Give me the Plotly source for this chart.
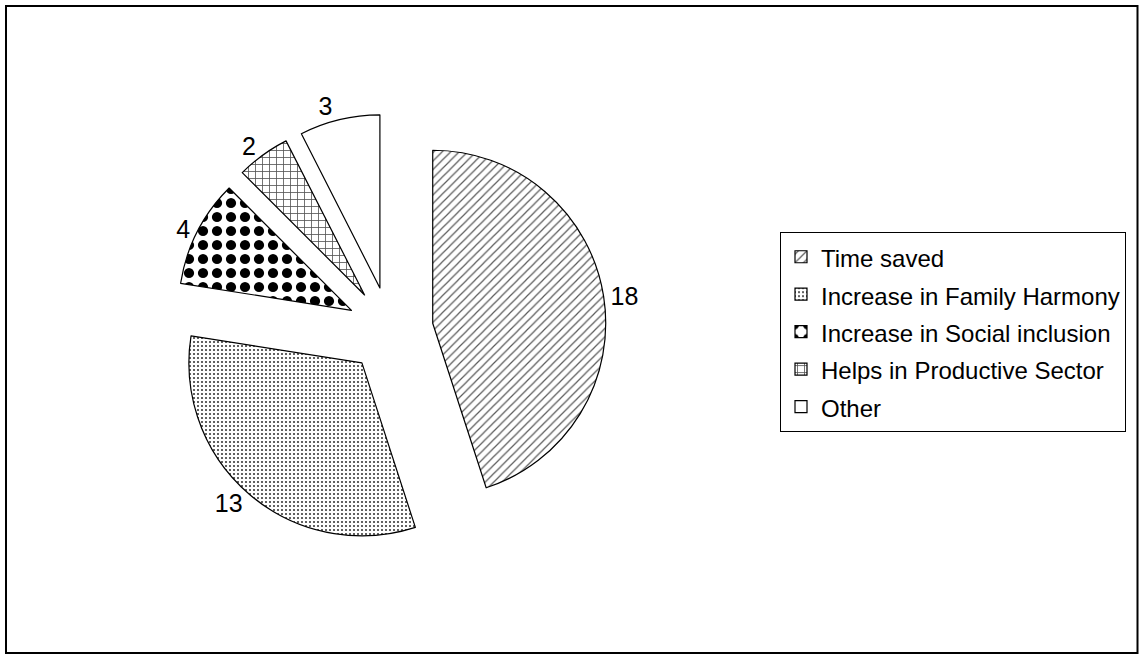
import plotly.graph_objects as go

# Benefits reported and number of responses
categories = [
    "Time saved",
    "Increase in Family Harmony",
    "Increase in Social inclusion",
    "Helps in Productive Sector",
    "Other",
]
counts = [18, 13, 4, 2, 3]

# Fill pattern for each slice (greyscale print style)
pattern_shapes = ["/", ".", ".", "+", ""]
pattern_sizes = [6, 4, 14, 7, 8]
pattern_solidity = [0.2, 0.22, 0.42, 0.22, 0.2]
pattern_fg = ["#5a5a5a", "#3a3a3a", "#000000", "#555555", "#000000"]

W, H = 1139, 654

# legend rows are spaced by the legend font; label text uses a smaller span
legend_labels = [f"<span style='font-size:24px'>{c}</span>" for c in categories]

fig = go.Figure(
    go.Pie(
        labels=legend_labels,
        values=counts,
        sort=False,
        direction="clockwise",
        rotation=0,
        pull=[0.25] * len(counts),
        textinfo="value",
        textposition="outside",
        outsidetextfont=dict(family="Liberation Sans, Arial, sans-serif", size=25, color="black"),
        marker=dict(
            colors=["white"] * len(counts),
            line=dict(color="black", width=1.2),
            pattern=dict(
                shape=pattern_shapes,
                size=pattern_sizes,
                solidity=pattern_solidity,
                fgcolor=pattern_fg,
                fgopacity=1,
                bgcolor="white",
                fillmode="replace",
            ),
        ),
        domain=dict(
            x=[173.75 / W, 606.25 / W],
            y=[1 - 546.25 / H, 1 - 113.75 / H],
        ),
        hoverinfo="skip",
    )
)

fig.update_layout(
    width=W,
    height=H,
    margin=dict(l=0, r=0, t=0, b=0),
    paper_bgcolor="white",
    plot_bgcolor="white",
    showlegend=True,
    legend=dict(
        x=780 / W,
        y=1 - 232 / H,
        xanchor="left",
        yanchor="top",
        bordercolor="black",
        borderwidth=1,
        bgcolor="white",
        font=dict(family="Liberation Sans, Arial, sans-serif", size=26.5, color="black"),
        itemclick=False,
        itemdoubleclick=False,
    ),
    shapes=[
        dict(
            type="rect",
            xref="paper",
            yref="paper",
            x0=6 / W,
            x1=1137.5 / W,
            y0=1 - 653 / H,
            y1=1 - 6 / H,
            line=dict(color="black", width=2),
            fillcolor="rgba(0,0,0,0)",
            layer="below",
        )
    ],
)

fig.write_html("out.html")
